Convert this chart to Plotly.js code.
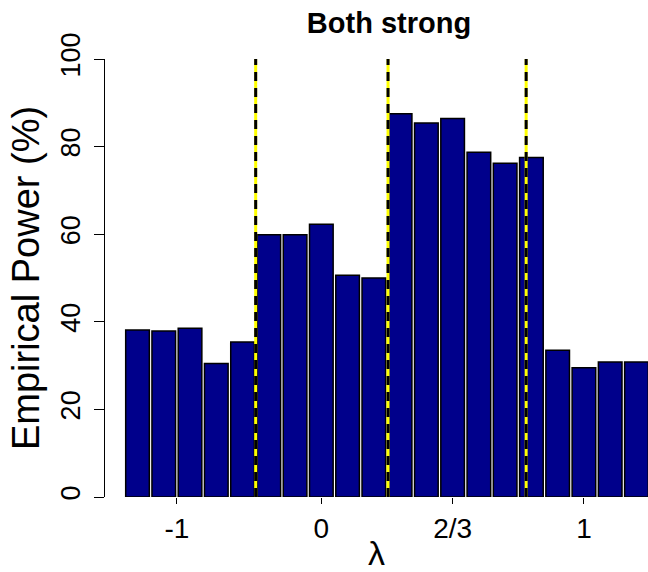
<!DOCTYPE html>
<html>
<head>
<meta charset="utf-8">
<script src="https://cdn.plot.ly/plotly-3.0.1.min.js"></script>
<style>html,body{margin:0;padding:0;background:#fff;}#chart{width:648px;height:572px;}</style>
</head>
<body>
<div id="chart"></div>
<script>
// Bar index positions (R barplot order) and empirical power values (%)
const barIndex = [1,2,3,4,5,6,7,8,9,10,11,12,13,14,15,16,17,18,19,20];
const power = [38.1,37.9,38.5,30.5,35.4,59.9,59.9,62.3,50.6,50.0,87.5,85.4,86.4,78.7,76.2,77.5,33.5,29.5,30.8,30.8];
// lambda tick labels and their bar-index positions
const tickLabels = ['-1','0','2/3','1'];
const tickPos = [2.5,8,13,18];
// dashed separator positions (bar-index units)
const separators = [5.5,10.54,15.8];

const FONT = 'Liberation Sans, Arial, Helvetica, sans-serif';

const trace = {
  type: 'bar',
  x: barIndex,
  y: power,
  width: 0.9,
  marker: {color: '#00008B', line: {color: '#000000', width: 1.5}},
  hoverinfo: 'x+y'
};

const shapes = [];
separators.forEach(s => {
  shapes.push({type:'line', xref:'x', yref:'paper', x0:s, x1:s, y0:0, y1:1,
    line:{color:'#FFFF00', width:3}, layer:'above'});
  shapes.push({type:'line', xref:'x', yref:'paper', x0:s, x1:s, y0:0, y1:1,
    line:{color:'#000000', width:3, dash:'9px,7px'}, layer:'above'});
});

const layout = {
  width: 648, height: 572,
  margin: {l:105, r:0, t:59, b:75, pad:0},
  paper_bgcolor:'#ffffff', plot_bgcolor:'#ffffff',
  showlegend:false,
  bargap:0,
  title: {text:'<b>Both strong</b>', font:{family:FONT, size:29, color:'#000'},
    xref:'paper', x:0.523, xanchor:'center', yref:'container', y:0.96, yanchor:'middle'},
  xaxis: {
    range:[-0.238, 20.44],
    tickmode:'array', tickvals:tickPos, ticktext:tickLabels,
    ticks:'outside', ticklen:6, tickwidth:1, tickcolor:'#000',
    showline:false, showgrid:false, zeroline:false,
    tickfont:{family:FONT, size:28, color:'#000'},
    title:{text:'λ', font:{family:FONT, size:34, color:'#000'}, standoff:6}
  },
  yaxis: {
    range:[0,100],
    tickmode:'array', tickvals:[0,20,40,60,80,100],
    ticks:'outside', ticklen:10, tickwidth:1, tickcolor:'#000',
    ticklabelstandoff:3,
    showline:true, linecolor:'#000', linewidth:1,
    showgrid:false, zeroline:false,
    tickangle:-90,
    tickfont:{family:FONT, size:27, color:'#000'},
    title:{text:'Empirical Power (%)', font:{family:FONT, size:38, color:'#000'}, standoff:4}
  },
  shapes: shapes
};

Plotly.newPlot('chart', [trace], layout, {displayModeBar:false, staticPlot:true});
</script>
</body>
</html>
